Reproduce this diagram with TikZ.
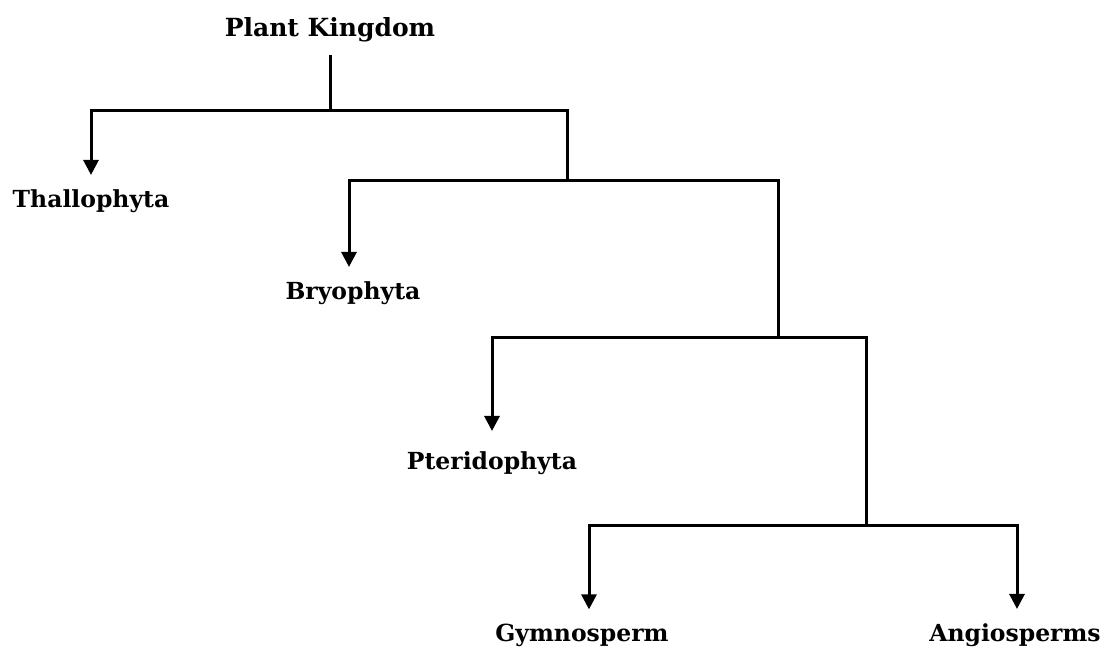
\documentclass[tikz,border=0pt]{standalone}
\usepackage{fontspec}
\setmainfont{DejaVu Serif}
\usetikzlibrary{arrows.meta}
\begin{document}
\begin{tikzpicture}[x=1pt,y=-1pt,
  lbl/.style={font=\fontsize{23.5}{27}\selectfont\bfseries, inner sep=0pt, anchor=base},
  title/.style={font=\fontsize{25}{29}\selectfont\bfseries, inner sep=0pt, anchor=base},
  link/.style={line width=3pt},
  arr/.style={line width=3pt, -{Triangle[width=15pt,length=15pt]}}]
\useasboundingbox (0,0) rectangle (1104,649);
\node[title] (pk) at (330,36) {Plant Kingdom};
\node[lbl] (th) at (91,207) {Thallophyta};
\node[lbl] (br) at (353,299) {Bryophyta};
\node[lbl] (pt) at (492,469) {Pteridophyta};
\node[lbl] (gy) at (582,641) {Gymnosperm};
\node[lbl] (an) at (1015,641) {Angiosperms};
\coordinate (j1) at (330,110);
\coordinate (j2) at (567,180);
\coordinate (j3) at (778,337);
\coordinate (j4) at (866,525);
\draw[link] ([yshift=-13pt]pk.south) -- (j1);
\draw[arr, shorten >=14pt] (j1) -| (th.north -| 91,0);
\draw[link] (j1) -| (j2);
\draw[arr, shorten >=14pt] (j2) -| (br.north -| 349,0);
\draw[link] (j2) -| (j3);
\draw[arr, shorten >=20pt] (j3) -| (pt.north -| 492,0);
\draw[link] (j3) -| (j4);
\draw[arr, shorten >=14pt] (j4) -| (gy.north -| 589,0);
\draw[arr, shorten >=14pt] (j4) -| (an.north -| 1017,0);
\end{tikzpicture}
\end{document}
